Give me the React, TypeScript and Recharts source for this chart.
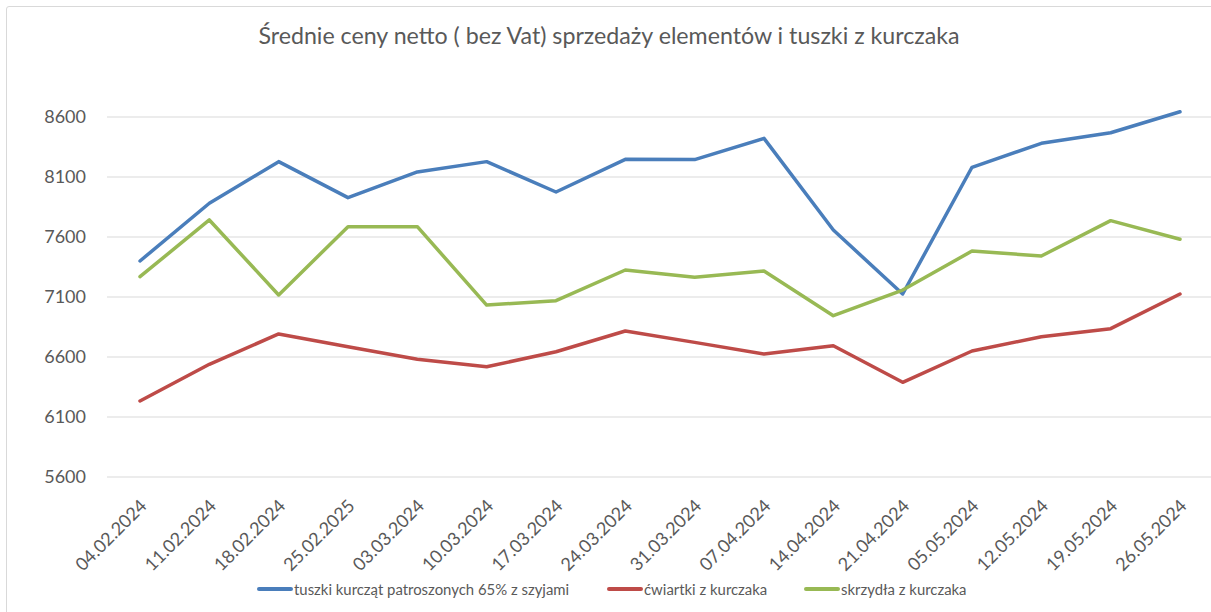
import React from 'react';
import { LineChart, Line, XAxis, YAxis, CartesianGrid } from 'recharts';

const categories = [
  '04.02.2024', '11.02.2024', '18.02.2024', '25.02.2025', '03.03.2024', '10.03.2024',
  '17.03.2024', '24.03.2024', '31.03.2024', '07.04.2024', '14.04.2024', '21.04.2024',
  '05.05.2024', '12.05.2024', '19.05.2024', '26.05.2024',
];
const tuszki = [7400, 7881, 8228, 7928, 8142, 8228, 7975, 8247, 8245, 8422, 7658, 7125, 8181, 8381, 8469, 8644];
const cwiartki = [6233, 6539, 6792, 6686, 6581, 6519, 6644, 6817, 6722, 6625, 6694, 6389, 6650, 6769, 6836, 7125];
const skrzydla = [7269, 7742, 7117, 7686, 7686, 7033, 7069, 7325, 7264, 7317, 6944, 7158, 7483, 7442, 7736, 7581];
const yTicks = [5600, 6100, 6600, 7100, 7600, 8100, 8600];

const seriesNames = [
  'tuszki kurcząt patroszonych 65% z szyjami',
  'ćwiartki z kurczaka',
  'skrzydła z kurczaka',
];
const seriesColors = ['#4A7EBB', '#BE4B48', '#98B954'];
const seriesKeys = ['tuszki', 'cwiartki', 'skrzydla'];

const data = categories.map((c, i) => ({
  date: c,
  tuszki: tuszki[i],
  cwiartki: cwiartki[i],
  skrzydla: skrzydla[i],
}));

const FONT = 'Lato, "Open Sans", sans-serif';
const TEXT = '#595959';

const XTick = (props: any) => {
  const { x, y, payload } = props;
  const ax = x + 8;
  const ay = y + 30;
  return (
    <text
      x={ax}
      y={ay}
      transform={`rotate(-45 ${ax} ${ay})`}
      textAnchor="end"
      fill={TEXT}
      fontSize={18}
      fontFamily={FONT}
    >
      {payload.value}
    </text>
  );
};

const legendLefts = [257, 607, 804];

export default function App() {
  return (
    <div
      style={{
        position: 'absolute',
        left: 0,
        top: 0,
        width: 1211,
        height: 612,
        overflow: 'hidden',
        background: '#fff',
      }}
    >
      <div
        style={{
          position: 'absolute',
          left: 6,
          top: 6,
          width: 1230,
          height: 640,
          border: '1px solid #d9d9d9',
          borderRadius: 3,
        }}
      />
      <div
        style={{
          position: 'absolute',
          left: 0,
          top: 22,
          width: 1218,
          textAlign: 'center',
          fontFamily: FONT,
          fontSize: 23.2,
          lineHeight: '26px',
          color: TEXT,
          whiteSpace: 'nowrap',
        }}
      >
        Średnie ceny netto ( bez Vat) sprzedaży elementów i tuszki z kurczaka
      </div>
      <div style={{ position: 'absolute', left: 0, top: 0 }}>
        <LineChart
          width={1211}
          height={612}
          data={data}
          margin={{ top: 105, right: 0, left: 0, bottom: 0 }}
        >
          <CartesianGrid
            vertical={false}
            horizontalValues={yTicks}
            stroke="#d9d9d9"
            strokeWidth={1}
          />
          <XAxis
            dataKey="date"
            interval={0}
            tickLine={false}
            axisLine={false}
            tickSize={0}
            tickMargin={0}
            height={135}
            padding={{ left: 33, right: 31 }}
            tick={<XTick />}
          />
          <YAxis
            domain={[5600, 8700]}
            ticks={yTicks}
            allowDataOverflow={false}
            tickLine={false}
            axisLine={false}
            tickSize={0}
            tickMargin={21}
            width={107}
            tick={{ fill: TEXT, fontSize: 18, fontFamily: FONT }}
          />
          {seriesKeys.map((k, i) => (
            <Line
              key={k}
              type="linear"
              dataKey={k}
              name={seriesNames[i]}
              stroke={seriesColors[i]}
              strokeWidth={3.5}
              strokeLinecap="round"
              strokeLinejoin="round"
              dot={false}
              activeDot={false}
              isAnimationActive={false}
            />
          ))}
        </LineChart>
      </div>
      {seriesNames.map((n, i) => (
        <div
          key={n}
          style={{
            position: 'absolute',
            left: legendLefts[i],
            top: 579,
            height: 20,
            display: 'flex',
            alignItems: 'center',
            fontFamily: FONT,
            fontSize: 14.9,
            color: TEXT,
            whiteSpace: 'nowrap',
          }}
        >
          <span
            style={{
              display: 'inline-block',
              width: 36,
              height: 4,
              borderRadius: 2,
              background: seriesColors[i],
              marginRight: 1,
            }}
          />
          <span>{n}</span>
        </div>
      ))}
    </div>
  );
}
